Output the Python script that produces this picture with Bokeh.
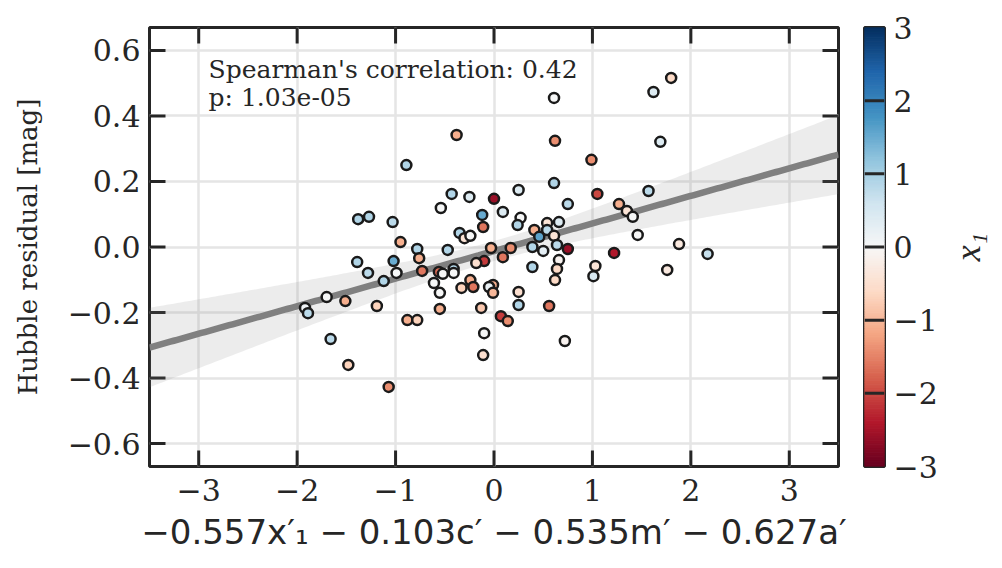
import numpy as np
from bokeh.plotting import figure
from bokeh.layouts import row
from bokeh.models import Label, LinearColorMapper, FixedTicker, Range1d, ColumnDataSource
from bokeh.transform import transform
from bokeh.embed import file_html
from bokeh.resources import INLINE

# Linear combination of standardised SALT/host parameters per supernova
proj = [1.80, 1.62, 1.69, 0.61, 0.62, 0.99, 0.61, 1.05, 1.57, 1.27,
        1.35, 1.41, 1.46, 1.88, 2.17, 1.76, 1.22, 0.75, 1.03, 1.01,
        0.56, 0.72, 0.25, 0.25, 0.07, 0.14, -0.10, -0.11, 0.00, 0.25,
        -0.12, -0.11, 0.09, 0.27, 0.24, 0.75, 0.54, 0.66, 0.41, 0.46,
        0.54, 0.61, 0.64, 0.50, 0.39, -0.03, 0.17, -0.10, 0.09, 0.39,
        0.66, 0.64, 0.62, -0.01, -0.05, -0.01, -0.13, -0.43, -0.25, -0.54,
        -1.38, -1.27, -1.03, -0.35, -0.30, -0.24, -0.95, -0.78, -0.47, -0.76,
        -1.39, -1.02, -0.73, -0.56, -0.52, -0.41, -0.41, -0.18, -1.28, -0.99,
        -1.12, -0.61, -0.55, -0.24, -0.33, -0.21, -1.70, -1.51, -1.92, -1.89,
        -1.19, -0.55, -0.88, -0.78, -1.66, -1.48, -1.07, -0.38, -0.89]

# Hubble residuals [mag]
hubble_res = [0.516, 0.473, 0.321, 0.455, 0.324, 0.266, 0.195, 0.162, 0.171, 0.131,
              0.110, 0.092, 0.037, 0.009, -0.021, -0.070, -0.018, -0.006, -0.058, -0.089,
              -0.180, -0.287, -0.177, -0.137, -0.211, -0.226, -0.263, -0.330, 0.147, 0.174,
              0.098, 0.061, 0.107, 0.089, 0.067, 0.131, 0.073, 0.076, 0.052, 0.031,
              0.052, 0.034, 0.006, -0.012, 0.000, -0.003, -0.003, -0.043, -0.031, -0.061,
              -0.040, -0.067, -0.101, -0.116, -0.122, -0.140, -0.186, 0.162, 0.153, 0.119,
              0.085, 0.092, 0.076, 0.043, 0.027, 0.034, 0.015, -0.006, -0.009, -0.034,
              -0.046, -0.043, -0.073, -0.076, -0.082, -0.067, -0.079, -0.049, -0.079, -0.079,
              -0.104, -0.110, -0.140, -0.101, -0.125, -0.122, -0.153, -0.165, -0.186, -0.202,
              -0.180, -0.189, -0.223, -0.223, -0.281, -0.360, -0.427, 0.342, 0.250]

# SALT2 stretch x1 (colour coding)
x1 = [-0.6, 0.4, 0.4, 0.0, -1.4, -1.4, 0.9, -2.0, 0.8, -1.1,
      -0.4, 0.0, 0.0, -0.3, 0.7, -0.3, -2.4, -2.6, -0.4, 0.5,
      -1.6, -0.1, 0.9, -0.5, -2.1, -1.4, 0.0, -0.5, -2.6, 0.4,
      1.5, -1.6, 0.4, 0.0, 0.9, 0.8, -0.4, 0.4, -1.1, 1.6,
      0.8, -0.4, 0.8, 0.3, 0.9, -1.1, -1.4, -2.1, -1.6, 0.9,
      -0.1, -0.6, -0.6, -1.1, 0.2, -1.0, -0.8, 0.9, 0.4, 0.0,
      0.9, 0.9, 0.8, 0.9, -0.4, 0.0, -1.1, 0.9, 0.9, -1.1,
      0.9, 1.5, -1.6, -1.7, 0.0, 0.9, 0.0, -0.5, 0.8, 0.0,
      0.9, 0.0, 0.0, -1.1, -0.7, -1.6, 0.0, -1.1, 0.1, 0.8,
      -0.7, -1.1, -1.1, -0.7, 0.8, -0.7, -1.4, -1.1, 0.9]

x_ticks = [-3, -2, -1, 0, 1, 2, 3]
y_ticks = [-0.6, -0.4, -0.2, 0.0, 0.2, 0.4, 0.6]
cbar_ticks = [-3, -2, -1, 0, 1, 2, 3]

spearman_text = "Spearman's correlation: 0.42"
pvalue_text = "p: 1.03e-05"

X_LIM = (-3.5, 3.5)
Y_LIM = (-0.67, 0.67)
X1_LIM = (-3, 3)

INK = "#262626"
SERIF = "DejaVu Serif"
TICK_FS = "30px"
LABEL_FS = "26px"

# RdBu diverging map, red (low) to blue (high)
RDBU = ["#67001f", "#b2182b", "#d6604d", "#f4a582", "#fddbc7", "#f7f7f7",
        "#d1e5f0", "#92c5de", "#4393c3", "#2166ac", "#053061"]


def build_palette(anchors, n=256):
    rgb = np.array([[int(c[i:i + 2], 16) for i in (1, 3, 5)] for c in anchors], float)
    pos = np.linspace(0, 1, len(anchors))
    out = []
    for t in np.linspace(0, 1, n):
        r, g, b = (np.interp(t, pos, rgb[:, k]) for k in range(3))
        out.append("#%02x%02x%02x" % (int(round(r)), int(round(g)), int(round(b))))
    return out


def minus(s):
    return s.replace("-", "\u2212")


palette = build_palette(RDBU)
mapper = LinearColorMapper(palette=palette, low=X1_LIM[0], high=X1_LIM[1])

# Ordinary least squares fit with 95% confidence band
xa = np.asarray(proj)
ya = np.asarray(hubble_res)
n = len(xa)
slope, intercept = np.polyfit(xa, ya, 1)
resid = ya - (slope * xa + intercept)
s = np.sqrt(np.sum(resid ** 2) / (n - 2))
sxx = np.sum((xa - xa.mean()) ** 2)
xg = np.linspace(X_LIM[0], X_LIM[1], 200)
yg = slope * xg + intercept
half = 1.984 * s * np.sqrt(1.0 / n + (xg - xa.mean()) ** 2 / sxx)

# ---- main scatter panel ----
W, H = 850, 568
BL, BR, BT, BB = 149, 12, 27, 102
p = figure(width=W, height=H, x_range=Range1d(*X_LIM), y_range=Range1d(*Y_LIM),
           output_backend="svg", toolbar_location=None,
           min_border_left=BL, min_border_right=BR, min_border_top=BT,
           min_border_bottom=BB)
p.background_fill_color = "white"
p.border_fill_color = "white"
p.outline_line_color = INK
p.outline_line_width = 3

p.xaxis.ticker = FixedTicker(ticks=x_ticks)
p.yaxis.ticker = FixedTicker(ticks=y_ticks)
p.xaxis.major_label_overrides = {t: minus(str(t)) for t in x_ticks}
p.yaxis.major_label_overrides = {t: minus("%.1f" % t) for t in y_ticks}

for ax in (p.xaxis[0], p.yaxis[0]):
    ax.axis_line_color = None
    ax.major_tick_line_color = None
    ax.minor_tick_line_color = None
    ax.major_tick_in = 0
    ax.major_tick_out = 0
    ax.major_label_text_font = SERIF
    ax.major_label_text_font_size = TICK_FS
    ax.major_label_text_color = INK

p.xaxis.major_label_standoff = 12
p.yaxis.major_label_standoff = 9
p.yaxis.axis_label = "Hubble residual [mag]"
p.yaxis.axis_label_text_font = SERIF
p.yaxis.axis_label_text_font_size = LABEL_FS
p.yaxis.axis_label_text_font_style = "normal"
p.yaxis.axis_label_text_color = INK
p.yaxis.axis_label_standoff = 22
p.xaxis.axis_label = "\u22120.557x\u2032\u2081 \u2212 0.103c\u2032 \u2212 0.535m\u2032 \u2212 0.627a\u2032"
p.xaxis.axis_label_text_font = "DejaVu Sans"
p.xaxis.axis_label_text_font_size = "34px"
p.xaxis.axis_label_text_font_style = "normal"
p.xaxis.axis_label_text_color = INK
p.xaxis.axis_label_standoff = 8

p.xgrid.ticker = FixedTicker(ticks=x_ticks)
p.ygrid.ticker = FixedTicker(ticks=y_ticks)
p.grid.grid_line_color = "#e5e5e5"
p.grid.grid_line_width = 2.5

# inward ticks on all four sides of the frame
TICK_PX = 16
fw, fh = W - BL - BR, H - BT - BB
dx = TICK_PX * (X_LIM[1] - X_LIM[0]) / fw
dy = TICK_PX * (Y_LIM[1] - Y_LIM[0]) / fh
nx, ny = len(x_ticks), len(y_ticks)
tick_kw = dict(line_color=INK, line_width=3, line_cap="butt")
p.segment(x0=x_ticks, x1=x_ticks, y0=[Y_LIM[0]] * nx, y1=[Y_LIM[0] + dy] * nx, **tick_kw)
p.segment(x0=x_ticks, x1=x_ticks, y0=[Y_LIM[1]] * nx, y1=[Y_LIM[1] - dy] * nx, **tick_kw)
p.segment(x0=[X_LIM[0]] * ny, x1=[X_LIM[0] + dx] * ny, y0=y_ticks, y1=y_ticks, **tick_kw)
p.segment(x0=[X_LIM[1]] * ny, x1=[X_LIM[1] - dx] * ny, y0=y_ticks, y1=y_ticks, **tick_kw)

p.varea(x=xg, y1=yg - half, y2=yg + half, fill_color="#808080", fill_alpha=0.15)
p.line(x=xg, y=yg, line_color="#808080", line_width=6.5)

src = ColumnDataSource(dict(x=proj, y=hubble_res, x1=x1))
p.scatter("x", "y", source=src, size=10, fill_color=transform("x1", mapper),
          line_color="#1a1a1a", line_width=2.5)

p.add_layout(Label(x=-2.9, y=0.497, text=spearman_text, text_font=SERIF,
                   text_font_size="25px", text_color=INK))
p.add_layout(Label(x=-2.9, y=0.413, text=pvalue_text, text_font=SERIF,
                   text_font_size="25px", text_color=INK))

# ---- colour bar ----
cb = figure(width=90, height=H, x_range=Range1d(0, 1), y_range=Range1d(*X1_LIM),
            output_backend="svg", toolbar_location=None,
            x_axis_location=None, y_axis_location="right",
            min_border_left=14, min_border_right=56, min_border_top=BT,
            min_border_bottom=BB)
cb.background_fill_color = "white"
cb.border_fill_color = "white"
cb.outline_line_color = INK
cb.outline_line_width = 3
cb.grid.visible = False
edges = np.linspace(X1_LIM[0], X1_LIM[1], len(palette) + 1)
cb.quad(left=0, right=1, bottom=edges[:-1], top=edges[1:], fill_color=palette,
        line_color=palette, line_width=1)
inner = [t for t in cbar_ticks if X1_LIM[0] < t < X1_LIM[1]]
cb.segment(x0=[0] * len(inner), x1=[1] * len(inner), y0=inner, y1=inner,
           line_color=INK, line_width=3)
yax = cb.yaxis[0]
yax.ticker = FixedTicker(ticks=cbar_ticks)
yax.major_label_overrides = {t: minus(str(t)) for t in cbar_ticks}
yax.axis_line_color = None
yax.major_tick_line_color = None
yax.minor_tick_line_color = None
yax.major_tick_in = 0
yax.major_tick_out = 0
yax.major_label_standoff = 9
yax.major_label_text_font = SERIF
yax.major_label_text_font_size = TICK_FS
yax.major_label_text_color = INK

# ---- colour bar title ----
CW = 62
lab = figure(width=CW, height=H, x_range=Range1d(0, CW), y_range=Range1d(*X1_LIM),
             output_backend="svg", toolbar_location=None,
             x_axis_location=None, y_axis_location=None,
             min_border_left=0, min_border_right=0, min_border_top=BT,
             min_border_bottom=BB)
lab.outline_line_color = None
lab.grid.visible = False
lab.background_fill_color = "white"
lab.border_fill_color = "white"
lab.text(x=[27], y=[0], text=["x\u2081"], angle=np.pi / 2, text_align="center",
         text_baseline="middle", text_font="DejaVu Sans", text_font_style="italic",
         text_font_size="36px", text_color=INK)

layout = row(p, cb, lab)
open("out.html", "w").write(file_html(layout, INLINE))
